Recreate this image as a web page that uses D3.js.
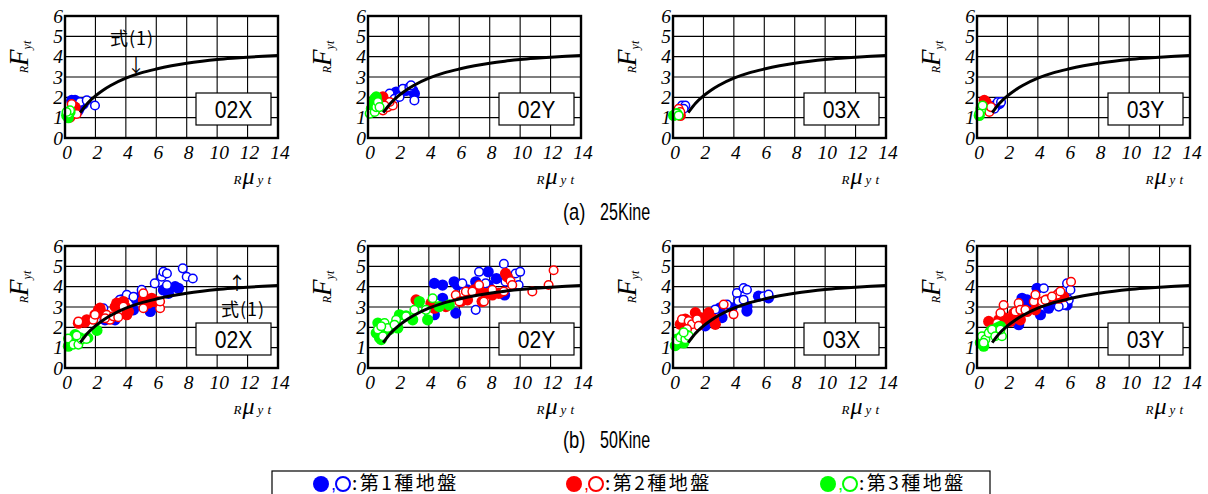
<!DOCTYPE html>
<html><head><meta charset="utf-8">
<script src="https://cdn.jsdelivr.net/npm/d3@7"></script>
<style>body{margin:0;background:#fff}svg{display:block}</style>
</head><body>
<script>
// ---------- data ----------
const xTicks = [0, 2, 4, 6, 8, 10, 12, 14];
const yTicks = [0, 1, 2, 3, 4, 5, 6];
const panelLabels = ["02X", "02Y", "03X", "03Y"];
const rowTags = ["(a)", "(b)"];
const rowCaptions = ["25Kine", "50Kine"];
const legendLabels = [":第1種地盤", ":第2種地盤", ":第3種地盤"];
const groundColors = ["#0000ff", "#ff0000", "#00ff00"];
// 式(1) curve
const curveX = [1, 1.5, 2, 2.5, 3, 4, 5, 6, 7, 8, 9, 10, 11, 12, 13, 14];
const curveY = [1.25, 1.72, 2.07, 2.35, 2.58, 2.94, 3.2, 3.39, 3.55, 3.68, 3.78, 3.86, 3.92, 3.97, 4.02, 4.06];
// points: [ground (0,1,2), filled (1) / open (0), mu, F]
const p25_02X = [
 [0,1,.44,1.85],[0,1,.66,1.85],[0,1,.99,1.52],[0,1,1.2,1.67],[0,1,.88,1.36],
 [0,0,.99,1.77],[0,0,1.43,1.85],[0,0,1.97,1.6],[0,0,.66,1.52],
 [1,1,.44,1.36],[1,1,.66,1.52],[1,1,.33,1.03],
 [1,0,.44,1.67],[1,0,.55,1.18],[1,0,.77,1.18],
 [2,1,.11,1.11],[2,1,.33,1.28],[2,1,.22,1.0],
 [2,0,.22,1.2],[2,0,.33,1.36],[2,0,.1,1.28]];
const p25_02Y = [
 [0,1,1.85,2.26],[0,1,2.5,2.34],[0,1,2.94,2.34],[0,1,3.05,2.18],[0,1,2.07,2.18],
 [0,0,1.42,2.18],[0,0,1.74,1.93],[0,0,2.29,2.42],[0,0,2.72,2.5],[0,0,3.05,1.85],[0,0,2.07,2.02],[0,0,2.83,2.59],
 [1,1,.33,1.77],[1,1,.76,1.93],[1,1,.98,2.02],[1,1,.98,1.85],
 [1,0,.98,1.36],[1,0,1.3,1.52],[1,0,1.63,1.6],[1,0,1.42,1.77],[1,0,1.09,1.6],
 [2,1,.44,1.93],[2,1,.54,2.02],[2,1,.33,1.69],[2,1,.22,1.44],
 [2,0,.11,1.2],[2,0,.44,1.28],[2,0,.54,1.52],[2,0,.65,1.77],[2,0,.76,1.52]];
const p25_03X = [
 [0,1,.48,1.44],
 [0,0,.59,1.6],[0,0,.81,1.6],[0,0,.7,1.44],
 [1,1,.48,1.11],
 [1,0,.37,1.44],[1,0,.48,1.28],
 [2,1,.04,1.11],[2,1,.26,1.2],
 [2,0,.22,1.2],[2,0,.37,1.11]];
const p25_03Y = [
 [0,1,1.25,1.6],[0,1,1.47,1.69],
 [0,0,1.14,1.6],[0,0,1.36,1.77],[0,0,1.58,1.77],[0,0,1.14,1.44],
 [1,1,.59,1.77],[1,1,.48,1.85],[1,1,.7,1.6],
 [1,0,.59,1.52],[1,0,.81,1.28],[1,0,.92,1.52],
 [2,1,.15,1.11],[2,1,.26,1.44],
 [2,0,.26,1.36],[2,0,.37,1.6],[2,0,.15,1.2]];
const p50_02X = [
 [0,1,2.63,2.37],[0,1,3.29,2.37],[0,1,3.73,3.35],[0,1,3.6,3.27],[0,1,4.5,2.86],[0,1,4.7,3.35],[0,1,4.93,3.5],
 [0,1,5.6,2.78],[0,1,5.7,2.94],[0,1,6.47,3.84],[0,1,6.8,3.67],[0,1,7.24,4.0],[0,1,7.46,3.92],[0,1,6.7,3.92],
 [0,0,4.06,3.6],[0,0,4.5,3.5],[0,0,5.04,3.84],[0,0,5.9,4.16],[0,0,6.36,4.49],[0,0,6.47,4.73],[0,0,6.7,4.65],
 [0,0,6.7,4.08],[0,0,7.74,4.9],[0,0,8.0,4.49],[0,0,8.4,4.4],[0,0,2.52,2.94],[0,0,3.6,3.35],
 [1,1,.88,2.2],[1,1,1.43,2.37],[1,1,1.3,2.25],[1,1,1.97,2.62],[1,1,2.2,2.86],[1,1,2.3,2.94],[1,1,2.4,2.7],
 [1,1,3.3,3.02],[1,1,3.4,3.19],[1,1,3.84,3.27],[1,1,3.95,3.02],[1,1,4.06,2.62],[1,1,4.17,2.78],
 [1,1,5.15,3.35],[1,1,5.7,3.43],[1,1,5.8,3.27],[1,1,6.0,3.27],[1,1,5.5,3.19],
 [1,0,.88,2.29],[1,0,1.86,2.37],[1,0,1.97,2.62],[1,0,2.74,2.62],[1,0,2.96,2.37],[1,0,3.18,2.54],[1,0,3.84,3.02],
 [1,0,3.5,2.5],[1,0,5.15,3.67],[1,0,5.15,2.94],[1,0,6.25,2.94],[1,0,6.25,3.27],[1,0,2.63,2.45],
 [2,1,.22,1.07],[2,1,.33,1.4],[2,1,.66,1.64],[2,1,1.0,1.48],[2,1,1.5,1.48],[2,1,2.1,1.85],
 [2,0,.2,1.45],[2,0,.55,1.15],[2,0,.88,1.15],[2,0,1.1,1.4],[2,0,1.4,1.43],[2,0,.77,1.6]];
const p50_02Y = [
 [0,1,4.36,4.16],[0,1,4.9,4.08],[0,1,4.36,2.62],[0,1,4.9,3.43],[0,1,5.66,4.24],[0,1,5.88,4.08],[0,1,5.77,2.7],
 [0,1,6.54,3.84],[0,1,7.08,4.24],[0,1,7.9,4.73],[0,1,7.9,4.08],[0,1,8.44,4.4],[0,1,8.98,3.59],
 [0,0,4.03,2.62],[0,0,4.47,3.19],[0,0,6.2,4.16],[0,0,7.3,4.73],[0,0,7.08,2.86],[0,0,7.73,4.16],[0,0,8.93,5.12],
 [0,0,9.04,4.24],[0,0,9.7,4.65],[0,0,10.0,4.73],[0,0,9.9,4.08],[0,0,7.9,3.76],
 [1,1,3.16,3.35],[1,1,4.14,3.19],[1,1,4.36,2.94],[1,1,5.12,3.02],[1,1,6.1,3.27],[1,1,6.54,3.35],[1,1,6.97,3.84],
 [1,1,7.3,3.84],[1,1,7.73,3.67],[1,1,8.17,3.59],[1,1,8.6,3.67],[1,1,9.04,4.65],[1,1,9.15,4.49],[1,1,7.5,3.27],
 [1,0,5.77,3.59],[1,0,6.43,3.76],[1,0,6.86,3.76],[1,0,7.3,4.08],[1,0,8.17,3.84],[1,0,8.93,3.76],[1,0,9.37,4.28],
 [1,0,9.48,4.08],[1,0,10.8,3.76],[1,0,11.87,4.08],[1,0,12.2,4.81],[1,0,7.62,3.27],[1,0,6.0,3.27],
 [2,1,.54,1.72],[2,1,.76,1.48],[2,1,.87,1.4],[2,1,.65,2.21],[2,1,.98,1.97],[2,1,1.42,1.89],[2,1,1.96,1.97],
 [2,1,2.07,2.62],[2,1,2.94,2.37],[2,1,3.38,3.27],[2,1,3.92,2.37],[2,1,4.68,3.02],[2,1,5.34,3.1],[2,1,2.5,2.57],
 [2,0,.65,1.89],[2,0,.98,1.56],[2,0,1.09,2.21],[2,0,1.3,1.97],[2,0,1.85,2.37],[2,0,2.5,2.54],[2,0,3.05,2.86],
 [2,0,3.81,2.86],[2,0,4.25,3.43],[2,0,1.74,2.13],[2,0,.87,2.05]];
const p50_03X = [
 [0,1,2.12,2.07],[0,1,3.22,2.48],[0,1,3.1,2.96],[0,1,3.87,2.96],[0,1,4.86,2.8],[0,1,4.86,3.04],[0,1,5.62,3.53],[0,1,6.28,3.45],
 [0,0,2.78,2.88],[0,0,3.55,3.12],[0,0,4.2,3.69],[0,0,4.64,3.93],[0,0,4.86,3.85],[0,0,4.3,3.28],[0,0,4.64,3.36],[0,0,5.95,3.53],[0,0,6.28,3.61],
 [1,1,.48,2.15],[1,1,.81,2.4],[1,1,1.47,2.72],[1,1,1.8,2.48],[1,1,1.25,2.23],[1,1,2.34,2.72],[1,1,2.78,2.15],[1,1,2.67,2.4],[1,1,2.0,2.4],
 [1,0,.59,2.4],[1,0,1.03,2.31],[1,0,1.25,2.15],[1,0,1.58,2.4],[1,0,1.69,2.07],[1,0,3.33,3.12],[1,0,3.98,2.64],[1,0,.92,1.91],
 [2,1,.15,1.1],[2,1,.26,1.42],[2,1,.59,1.58],[2,1,.92,1.6],[2,1,.7,1.23],
 [2,0,.26,1.34],[2,0,.48,1.5],[2,0,.81,1.42],[2,0,1.03,1.58],[2,0,.7,1.75]];
const p50_03Y = [
 [0,1,2.74,2.13],[0,1,2.96,3.43],[0,1,3.29,3.35],[0,1,3.95,3.92],[0,1,4.17,2.62],[0,1,4.71,2.94],[0,1,5.26,3.27],[0,1,5.92,3.1],[0,1,3.29,3.02],
 [0,0,4.39,3.92],[0,0,5.37,3.67],[0,0,5.92,4.16],[0,0,6.14,3.84],[0,0,6.03,3.35],[0,0,5.7,3.1],[0,0,5.37,3.02],
 [1,1,.77,2.29],[1,1,1.43,2.37],[1,1,1.86,2.45],[1,1,2.19,2.29],[1,1,2.41,2.7],[1,1,2.74,2.45],[1,1,2.85,2.37],
 [1,1,3.29,2.78],[1,1,3.84,2.86],[1,1,4.6,3.35],[1,1,5.7,3.51],[1,1,5.37,3.43],
 [1,0,1.32,2.21],[1,0,1.54,2.7],[1,0,1.75,3.1],[1,0,2.52,2.78],[1,0,2.74,3.19],[1,0,2.85,2.86],[1,0,3.18,2.86],
 [1,0,3.73,3.27],[1,0,3.84,3.6],[1,0,4.28,3.27],[1,0,4.5,3.35],[1,0,5.26,3.6],[1,0,5.48,3.76],[1,0,6.18,4.24],[1,0,4.93,3.51],
 [2,1,.22,1.24],[2,1,.44,1.07],[2,1,.33,1.48],[2,1,.88,1.8],[2,1,1.32,1.97],[2,1,1.54,2.05],
 [2,0,.33,1.56],[2,0,.55,1.4],[2,0,.77,1.72],[2,0,.99,1.89],[2,0,1.2,1.56],[2,0,1.64,1.56],[2,0,1.54,1.89],[2,0,.44,1.24]];
const rowsData = [[p25_02X, p25_02Y, p25_03X, p25_03Y], [p50_02X, p50_02Y, p50_03X, p50_03Y]];

// ---------- layout ----------
const W = 1208, H = 494;
const colLeft = [65, 368, 673, 977], rowTop = [16, 246], pw = 213, ph = 122;
const serif = "Liberation Serif";
const sans = "Liberation Sans";
const cjk = "Noto Sans CJK JP";

const svg = d3.select("body").append("svg").attr("width", W).attr("height", H);

rowsData.forEach((row, r) => {
  row.forEach((pts, c) => {
    const g = svg.append("g").attr("transform", `translate(${colLeft[c]},${rowTop[r]})`);
    const x = d3.scaleLinear().domain([0, 14]).range([0, pw]);
    const y = d3.scaleLinear().domain([0, 6]).range([ph, 0]);
    // grid
    g.selectAll(".vx").data(xTicks).join("line")
      .attr("x1", d => x(d)).attr("x2", d => x(d)).attr("y1", 0).attr("y2", ph)
      .attr("stroke", "#000").attr("stroke-width", 1.1);
    g.selectAll(".hy").data(yTicks).join("line")
      .attr("y1", d => y(d)).attr("y2", d => y(d)).attr("x1", 0).attr("x2", pw)
      .attr("stroke", "#000").attr("stroke-width", 1.1);
    // points
    const order = [[0,1],[0,0],[1,1],[1,0],[2,1],[2,0]];
    order.forEach(([gr, f]) => {
      const sub = pts.filter(p => p[0] === gr && p[1] === f);
      g.selectAll(null).data(sub).join("circle")
        .attr("cx", d => x(d[2])).attr("cy", d => y(d[3]))
        .attr("r", f ? 5.6 : 4.3)
        .attr("fill", f ? groundColors[gr] : "#fff")
        .attr("stroke", groundColors[gr]).attr("stroke-width", f ? 0 : 1.5);
    });
    // curve 式(1)
    const line = d3.line().x(d => x(d[0])).y(d => y(d[1])).curve(d3.curveMonotoneX);
    g.append("path").datum(curveX.map((v, i) => [v, curveY[i]]))
      .attr("d", line).attr("fill", "none").attr("stroke", "#000").attr("stroke-width", 3);
    // border
    g.append("rect").attr("x", 0).attr("y", 0).attr("width", pw).attr("height", ph)
      .attr("fill", "none").attr("stroke", "#000").attr("stroke-width", 2.4);
    // label box
    g.append("rect").attr("x", 131).attr("y", 77).attr("width", 75).attr("height", 32)
      .attr("fill", "#fff").attr("stroke", "#000").attr("stroke-width", 1.2);
    g.append("text").attr("transform", "translate(168.5,101.5) scale(0.92,1.05)").attr("text-anchor", "middle")
      .attr("font-family", sans).attr("font-size", 23).text(panelLabels[c]);
    // tick labels
    g.selectAll(".yt").data(yTicks).join("text")
      .attr("x", -2).attr("y", d => y(d)).attr("dy", "0.34em").attr("text-anchor", "end")
      .attr("font-family", serif).attr("font-style", "italic").attr("font-size", 19.5).text(d => d);
    g.selectAll(".xt").data(xTicks).join("text")
      .attr("x", d => x(d) + 2).attr("y", ph + 21).attr("text-anchor", "middle")
      .attr("font-family", serif).attr("font-style", "italic").attr("font-size", 19.5).text(d => d);
    // y axis title  R F yt (subscripts)
    const yl = g.append("text").attr("transform", `translate(-37,41) rotate(-90)`)
      .attr("text-anchor", "middle").attr("font-family", serif).attr("font-style", "italic");
    yl.append("tspan").attr("font-size", 12).text("R");
    yl.append("tspan").attr("font-size", 27).text("F");
    yl.append("tspan").attr("font-size", 12).attr("dy", 3).text("yt");
    // x axis title  R μ yt
    const xl = g.append("text").attr("x", pw - 3).attr("y", ph + 46)
      .attr("text-anchor", "end").attr("font-family", serif).attr("font-style", "italic");
    xl.append("tspan").attr("font-size", 13).text("R");
    xl.append("tspan").attr("font-size", 24).attr("dx", 1).text("μ");
    xl.append("tspan").attr("font-size", 13).attr("dx", 3).attr("letter-spacing", 4).text("yt");
    // annotations 式(1)
    if (r === 0 && c === 0) {
      g.append("text").attr("x", 67).attr("y", 29).attr("text-anchor", "middle")
        .attr("font-family", cjk).attr("font-size", 18).attr("letter-spacing", 1).text("式(1)");
      g.append("text").attr("x", 71).attr("y", 56).attr("text-anchor", "middle")
        .attr("font-family", cjk).attr("font-size", 18).text("↓");
    }
    if (r === 1 && c === 0) {
      g.append("text").attr("x", 172).attr("y", 44).attr("text-anchor", "middle")
        .attr("font-family", cjk).attr("font-size", 18).text("↑");
      g.append("text").attr("x", 178).attr("y", 70).attr("text-anchor", "middle")
        .attr("font-family", cjk).attr("font-size", 18).attr("letter-spacing", 1).text("式(1)");
    }
  });
});

// captions
const capY = [220, 448];
rowCaptions.forEach((t, i) => {
  svg.append("text").attr("transform", `translate(563,${capY[i]}) scale(0.8,1)`)
    .attr("font-family", sans).attr("font-size", 23).text(rowTags[i]);
  svg.append("text").attr("transform", `translate(600,${capY[i]}) scale(0.7,1)`)
    .attr("font-family", sans).attr("font-size", 23).text(t);
});

// legend
svg.append("rect").attr("x", 272).attr("y", 471).attr("width", 718).attr("height", 40)
  .attr("fill", "none").attr("stroke", "#000").attr("stroke-width", 1.2);
const legX = [321, 574, 828];
legendLabels.forEach((t, i) => {
  const lx = legX[i];
  svg.append("circle").attr("cx", lx).attr("cy", 484).attr("r", 8).attr("fill", groundColors[i]);
  svg.append("text").attr("x", lx + 10).attr("y", 490).attr("font-family", sans).attr("font-size", 18)
    .attr("fill", groundColors[i]).text(",");
  svg.append("circle").attr("cx", lx + 22).attr("cy", 484).attr("r", 7).attr("fill", "#fff")
    .attr("stroke", groundColors[i]).attr("stroke-width", 2);
  svg.append("text").attr("x", lx + 31).attr("y", 490).attr("font-family", cjk).attr("font-size", 19)
    .attr("letter-spacing", 2.5).text(t);
});
</script>
</body></html>
